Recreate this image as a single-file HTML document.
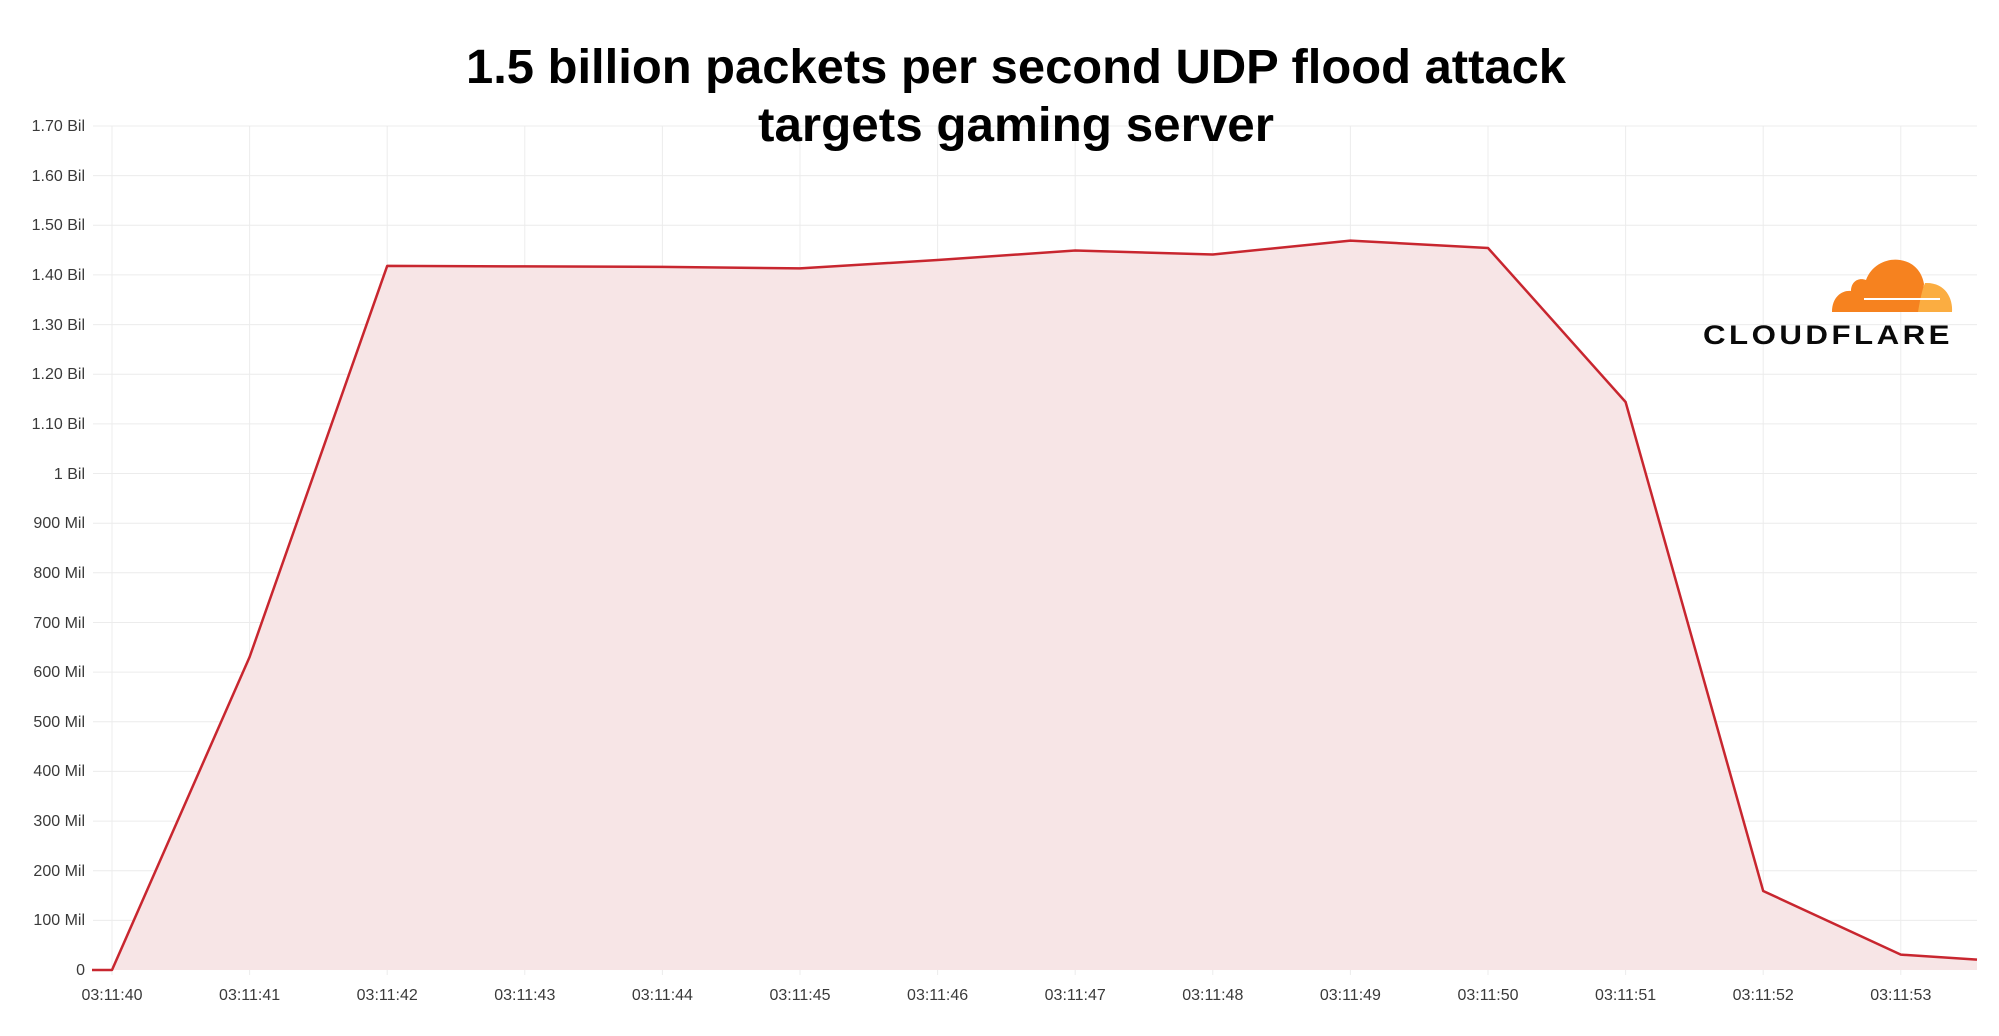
<!DOCTYPE html>
<html><head><meta charset="utf-8"><style>
html,body{margin:0;padding:0;background:#fff;}
svg{display:block;}
</style></head><body>
<svg width="1999" height="1036" xmlns="http://www.w3.org/2000/svg" font-family="Liberation Sans, sans-serif">
<rect width="1999" height="1036" fill="#fff"/>
<g stroke="#ececec" stroke-width="1">
<!-- horizontal grid -->
<line x1="93" y1="126" x2="1977" y2="126"/><line x1="93" y1="175.6" x2="1977" y2="175.6"/>
<line x1="93" y1="225.3" x2="1977" y2="225.3"/><line x1="93" y1="274.9" x2="1977" y2="274.9"/>
<line x1="93" y1="324.6" x2="1977" y2="324.6"/><line x1="93" y1="374.2" x2="1977" y2="374.2"/>
<line x1="93" y1="423.9" x2="1977" y2="423.9"/><line x1="93" y1="473.5" x2="1977" y2="473.5"/>
<line x1="93" y1="523.2" x2="1977" y2="523.2"/><line x1="93" y1="572.8" x2="1977" y2="572.8"/>
<line x1="93" y1="622.5" x2="1977" y2="622.5"/><line x1="93" y1="672.1" x2="1977" y2="672.1"/>
<line x1="93" y1="721.8" x2="1977" y2="721.8"/><line x1="93" y1="771.4" x2="1977" y2="771.4"/>
<line x1="93" y1="821.1" x2="1977" y2="821.1"/><line x1="93" y1="870.7" x2="1977" y2="870.7"/>
<line x1="93" y1="920.4" x2="1977" y2="920.4"/>
<!-- vertical grid -->
<line x1="112" y1="126" x2="112" y2="975"/><line x1="249.6" y1="126" x2="249.6" y2="975"/>
<line x1="387.2" y1="126" x2="387.2" y2="975"/><line x1="524.8" y1="126" x2="524.8" y2="975"/>
<line x1="662.4" y1="126" x2="662.4" y2="975"/><line x1="800" y1="126" x2="800" y2="975"/>
<line x1="937.6" y1="126" x2="937.6" y2="975"/><line x1="1075.2" y1="126" x2="1075.2" y2="975"/>
<line x1="1212.8" y1="126" x2="1212.8" y2="975"/><line x1="1350.4" y1="126" x2="1350.4" y2="975"/>
<line x1="1488" y1="126" x2="1488" y2="975"/><line x1="1625.6" y1="126" x2="1625.6" y2="975"/>
<line x1="1763.2" y1="126" x2="1763.2" y2="975"/><line x1="1900.8" y1="126" x2="1900.8" y2="975"/>
</g>
<polygon fill="#f7e5e6" points="92,970 112,970 249.6,657 387.2,265.9 524.8,266.4 662.4,266.9 800,268.4 937.6,260 1075.2,250.5 1212.8,254.5 1350.4,240.6 1488,248 1625.6,402 1763.2,891 1900.8,954.6 1977,959.6 1977,970"/>
<polyline fill="none" stroke="#c8262f" stroke-width="2.5" stroke-linejoin="round" points="92,970 112,970 249.6,657 387.2,265.9 524.8,266.4 662.4,266.9 800,268.4 937.6,260 1075.2,250.5 1212.8,254.5 1350.4,240.6 1488,248 1625.6,402 1763.2,891 1900.8,954.6 1977,959.6"/>
<g font-size="16" fill="#3a3a3a" text-anchor="end">
<text x="85" y="131">1.70 Bil</text><text x="85" y="181">1.60 Bil</text><text x="85" y="230">1.50 Bil</text>
<text x="85" y="280">1.40 Bil</text><text x="85" y="330">1.30 Bil</text><text x="85" y="379">1.20 Bil</text>
<text x="85" y="429">1.10 Bil</text><text x="85" y="479">1 Bil</text><text x="85" y="528">900 Mil</text>
<text x="85" y="578">800 Mil</text><text x="85" y="628">700 Mil</text><text x="85" y="677">600 Mil</text>
<text x="85" y="727">500 Mil</text><text x="85" y="776">400 Mil</text><text x="85" y="826">300 Mil</text>
<text x="85" y="876">200 Mil</text><text x="85" y="925">100 Mil</text><text x="85" y="975">0</text>
</g>
<g font-size="16" fill="#3a3a3a" text-anchor="middle">
<text x="112" y="1000">03:11:40</text><text x="249.6" y="1000">03:11:41</text><text x="387.2" y="1000">03:11:42</text>
<text x="524.8" y="1000">03:11:43</text><text x="662.4" y="1000">03:11:44</text><text x="800" y="1000">03:11:45</text>
<text x="937.6" y="1000">03:11:46</text><text x="1075.2" y="1000">03:11:47</text><text x="1212.8" y="1000">03:11:48</text>
<text x="1350.4" y="1000">03:11:49</text><text x="1488" y="1000">03:11:50</text><text x="1625.6" y="1000">03:11:51</text>
<text x="1763.2" y="1000">03:11:52</text><text x="1900.8" y="1000">03:11:53</text>
</g>
<g font-weight="bold" font-size="48" fill="#000" text-anchor="middle">
<text x="1016" y="83" textLength="1100" lengthAdjust="spacingAndGlyphs">1.5 billion packets per second UDP flood attack</text>
<text x="1016" y="141" textLength="516" lengthAdjust="spacingAndGlyphs">targets gaming server</text>
</g>
<!-- Cloudflare logo -->
<g>
<path d="M1832,312 C1832,296 1843,290 1851,291 C1851,282 1858,277 1866,280 C1872,264 1888,258 1900,260 C1914,262 1922,272 1924,284 L1920,312 Z" fill="#f6821f"/>
<path d="M1918,312 C1920,300 1922,290 1925,283 C1945,282 1953,298 1952,312 Z" fill="#fbad41"/>
<line x1="1864" y1="299" x2="1940" y2="299" stroke="#fff" stroke-width="2"/>
<text x="1828" y="344" font-size="27" font-weight="bold" fill="#0a0a0a" text-anchor="middle" textLength="250" lengthAdjust="spacingAndGlyphs" letter-spacing="3">CLOUDFLARE</text>
</g>
</svg>
</body></html>
